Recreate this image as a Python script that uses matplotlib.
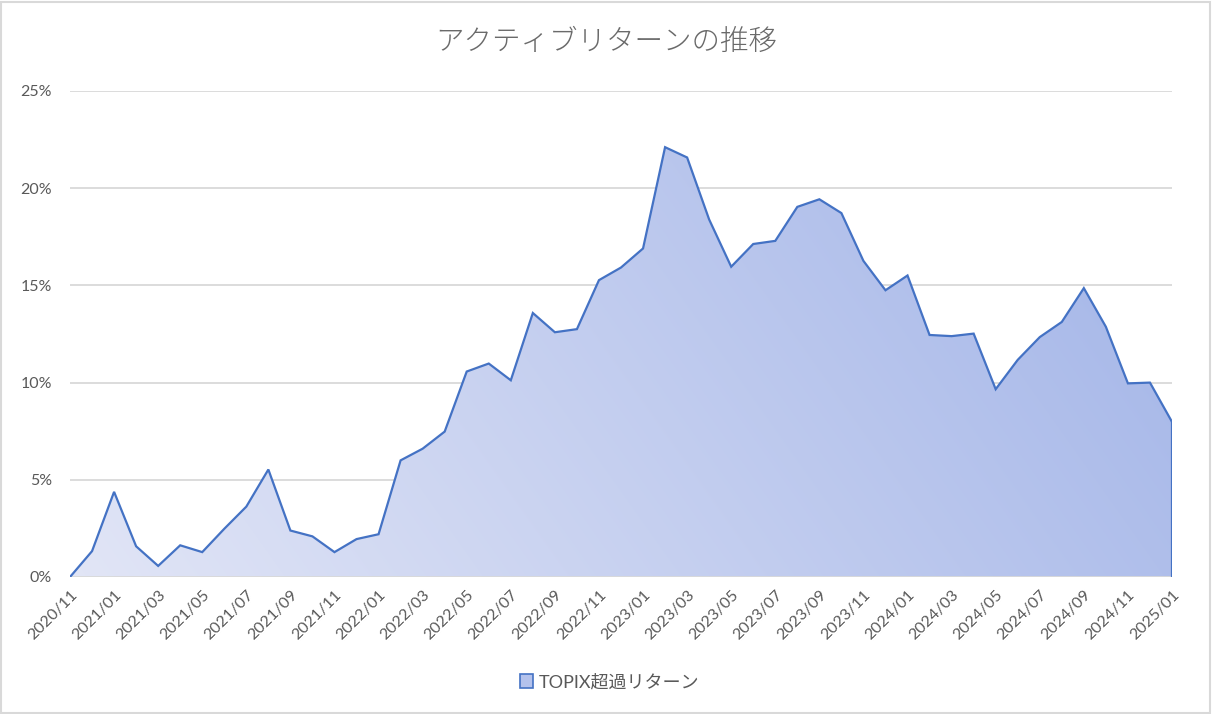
import numpy as np
import matplotlib
matplotlib.use("Agg")
import matplotlib.pyplot as plt
from matplotlib.patches import Patch, Rectangle, PathPatch

plt.rcParams['font.family'] = ['Lato', 'Noto Sans CJK JP', 'DejaVu Sans']

title = "アクティブリターンの推移"
series_name = "TOPIX超過リターン"

months = [
    "2020/11", "2020/12",
    "2021/01", "2021/02", "2021/03", "2021/04", "2021/05", "2021/06",
    "2021/07", "2021/08", "2021/09", "2021/10", "2021/11", "2021/12",
    "2022/01", "2022/02", "2022/03", "2022/04", "2022/05", "2022/06",
    "2022/07", "2022/08", "2022/09", "2022/10", "2022/11", "2022/12",
    "2023/01", "2023/02", "2023/03", "2023/04", "2023/05", "2023/06",
    "2023/07", "2023/08", "2023/09", "2023/10", "2023/11", "2023/12",
    "2024/01", "2024/02", "2024/03", "2024/04", "2024/05", "2024/06",
    "2024/07", "2024/08", "2024/09", "2024/10", "2024/11", "2024/12",
    "2025/01",
]

active_return = [
    0.00, 1.33, 4.38, 1.58, 0.57, 1.63, 1.28, 2.48, 3.62, 5.53,
    2.39, 2.09, 1.28, 1.95, 2.20, 6.00, 6.60, 7.48, 10.57, 10.98,
    10.12, 13.58, 12.59, 12.75, 15.27, 15.92, 16.90, 22.11, 21.58, 18.39,
    15.96, 17.13, 17.29, 19.04, 19.43, 18.72, 16.26, 14.75, 15.51, 12.45,
    12.39, 12.52, 9.66, 11.17, 12.34, 13.12, 14.86, 12.87, 9.96, 10.00,
    7.98,
]

yticks = [0, 5, 10, 15, 20, 25]

W, H = 1212, 714
fig = plt.figure(figsize=(W / 100, H / 100), dpi=100)
ax = fig.add_axes([70 / W, 1 - 577 / H, (1172 - 70) / W, (577 - 91) / H])

x = np.arange(len(months))
y = np.array(active_return) / 100.0

# gradient fill clipped to area
poly = ax.fill_between(x, 0, y, facecolor='none', edgecolor='none')
ny, nx = 200, 400
gx = np.linspace(0, 1, nx)[None, :]
gy = np.linspace(0, 1, ny)[:, None]
t = np.clip(0.8 * gx + 0.25 * gy, 0, 1)
c0 = np.array([0.885, 0.900, 0.965])
c1 = np.array([0.640, 0.710, 0.910])
img = c0[None, None, :] * (1 - t[..., None]) + c1[None, None, :] * t[..., None]
im = ax.imshow(img, extent=[0, len(months) - 1, 0, 0.25], origin='lower',
               aspect='auto', zorder=1, interpolation='bilinear')
clip = PathPatch(poly.get_paths()[0], transform=ax.transData,
                 facecolor='none', edgecolor='none')
ax.add_patch(clip)
im.set_clip_path(clip)

line_color = '#4472C4'
ax.plot(x, y, color=line_color, lw=1.6, zorder=3, solid_joinstyle='miter')
ax.plot([x[-1], x[-1]], [0, y[-1]], color=line_color, lw=1.6, zorder=3)

ax.set_xlim(0, len(months) - 1)
ax.set_ylim(0, 0.25)
ax.set_yticks([v / 100 for v in yticks])
ax.set_yticklabels([f"{v}%" for v in yticks])
ax.set_xticks(x[::2])
ax.set_xticklabels(months[::2], rotation=45, ha='right', rotation_mode='anchor')

for s in ax.spines.values():
    s.set_visible(False)
ax.grid(axis='y', color='#d9d9d9', lw=1.3, zorder=0)
ax.set_axisbelow(True)
ax.axhline(0, color='#d9d9d9', lw=1.3, zorder=2)
ax.tick_params(axis='both', length=0, colors='#595959', labelsize=11.5)
ax.tick_params(axis='y', pad=13)
ax.tick_params(axis='x', pad=8)

fig.text(0.5, 1 - 42 / H, title, ha='center', va='center', fontsize=20.5,
         color='#6a6a6a', fontweight='light',
         family=['Noto Sans CJK JP', 'DejaVu Sans'])

handle = Patch(facecolor='#b4c2ec', edgecolor=line_color, lw=1.2)
fig.legend([handle], [series_name], loc='center', bbox_to_anchor=(0.503, 1 - 682 / H),
           frameon=False, labelcolor='#595959',
           handlelength=0.75, handleheight=0.75, handletextpad=0.3,
           prop={'family': ['Lato', 'Noto Sans CJK JP'], 'size': 13})

fig.patches.append(Rectangle((1 / W, 1 / H), 1 - 3 / W, 1 - 3 / H,
                             transform=fig.transFigure, fill=False,
                             edgecolor='#d9d9d9', lw=1.5))

fig.savefig('out.png', dpi=100)
